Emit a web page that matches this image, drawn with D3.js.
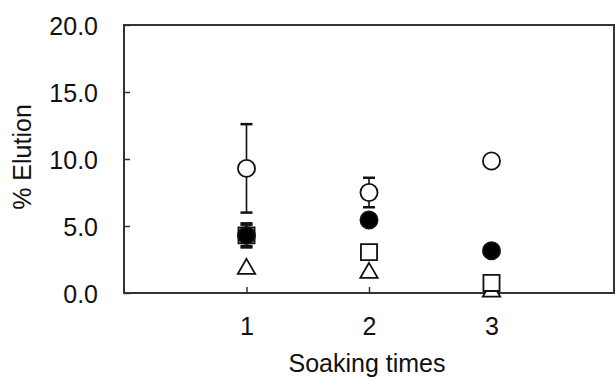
<!DOCTYPE html>
<html>
<head>
<meta charset="utf-8">
<script src="https://cdn.jsdelivr.net/npm/d3@7"></script>
<style>
  body { margin: 0; background: #fff; }
  svg text { font-family: "Liberation Sans", Arial, sans-serif; fill: #111; }
</style>
</head>
<body>
<div id="container"></div>
<script>
/**
 * DATA
 * */
const soakTimes = [1, 2, 3]
const yTicks = [0, 5, 10, 15, 20]

// open circles
const openCircle = [9.3, 7.5, 9.85]
const openCircleErr = [3.3, 1.1, 0]
// filled circles
const filledCircle = [4.3, 5.45, 3.15]
const filledCircleErr = [0.9, 0, 0]
// open squares
const openSquare = [4.3, 3.05, 0.75]
const openSquareErr = [0.8, 0, 0]
// open triangles
const openTriangle = [1.8, 1.5, 0.1]

/**
 * LAYOUT
 * */
const w = 615
const h = 377
const m = { top: 25, bottom: 84, left: 124, right: 1 }
const stroke = "#333"
const fontSize = "25px"

const svg = d3.select("#container")
    .append("svg")
    .attr("width", w)
    .attr("height", h)

const xScale = d3.scaleLinear()
    .domain([0, 4])
    .range([m.left, w - m.right])

const yScale = d3.scaleLinear()
    .domain([0, 20])
    .range([h - m.bottom, m.top])

// frame
svg.append("rect")
    .attr("x", xScale(0))
    .attr("y", yScale(20))
    .attr("width", xScale(4) - xScale(0))
    .attr("height", yScale(0) - yScale(20))
    .attr("fill", "none")
    .attr("stroke", stroke)
    .attr("stroke-width", 2)

// y axis, ticks inside
const yAxis = svg.append("g")
    .attr("transform", `translate(${xScale(0)},0)`)
    .call(d3.axisLeft(yScale).tickValues(yTicks).tickSize(-6).tickPadding(26)
        .tickFormat(d3.format(".1f")))
yAxis.select(".domain").remove()
yAxis.selectAll(".tick line").attr("stroke", stroke).attr("stroke-width", 1.5)
yAxis.selectAll(".tick text").style("font-size", fontSize).attr("dy", "0.36em")

// x axis, ticks inside
const xAxis = svg.append("g")
    .attr("transform", `translate(0,${yScale(0)})`)
    .call(d3.axisBottom(xScale).tickValues(soakTimes).tickSize(-6).tickPadding(24)
        .tickFormat(d3.format("d")))
xAxis.select(".domain").remove()
xAxis.selectAll(".tick line").attr("stroke", stroke).attr("stroke-width", 1.5)
xAxis.selectAll(".tick text").style("font-size", fontSize)

// titles
svg.append("text")
    .attr("x", xScale(2) - 2)
    .attr("y", 372)
    .attr("text-anchor", "middle")
    .style("font-size", fontSize)
    .text("Soaking times")

svg.append("text")
    .attr("transform", `translate(31,${yScale(10) - 2}) rotate(-90)`)
    .attr("text-anchor", "middle")
    .style("font-size", fontSize)
    .text("% Elution")

/**
 * MARKS
 * */
const plot = svg.append("g")

function errorBars(vals, errs) {
    const data = soakTimes.map((t, i) => ({ t, v: vals[i], e: errs[i] })).filter(d => d.e > 0)
    const g = plot.append("g").attr("stroke", "#111").attr("stroke-width", 1.6)
    g.selectAll("line.v").data(data).join("line")
        .attr("x1", d => xScale(d.t)).attr("x2", d => xScale(d.t))
        .attr("y1", d => yScale(d.v + d.e)).attr("y2", d => yScale(d.v - d.e))
    g.selectAll("line.cap").data(data.flatMap(d => [d.v + d.e, d.v - d.e].map(y => ({ t: d.t, y }))))
        .join("line")
        .attr("x1", d => xScale(d.t) - 6).attr("x2", d => xScale(d.t) + 6)
        .attr("y1", d => yScale(d.y)).attr("y2", d => yScale(d.y))
        .attr("stroke-width", 2.5)
}

function markers(vals, type, size, fill) {
    plot.append("g").selectAll("path")
        .data(soakTimes.map((t, i) => ({ t, v: vals[i] })))
        .join("path")
        .attr("transform", d => `translate(${xScale(d.t)},${yScale(d.v)})`)
        .attr("d", d3.symbol().type(type).size(size))
        .attr("fill", fill)
        .attr("stroke", "#111")
        .attr("stroke-width", 1.8)
}

errorBars(openCircle, openCircleErr)
errorBars(openSquare, openSquareErr)
errorBars(filledCircle, filledCircleErr)

markers(openTriangle, d3.symbolTriangle, 130, "#fff")
markers(openSquare, d3.symbolSquare, 260, "#fff")
markers(filledCircle, d3.symbolCircle, 230, "#000")
markers(openCircle, d3.symbolCircle, 230, "#fff")
</script>
</body>
</html>
